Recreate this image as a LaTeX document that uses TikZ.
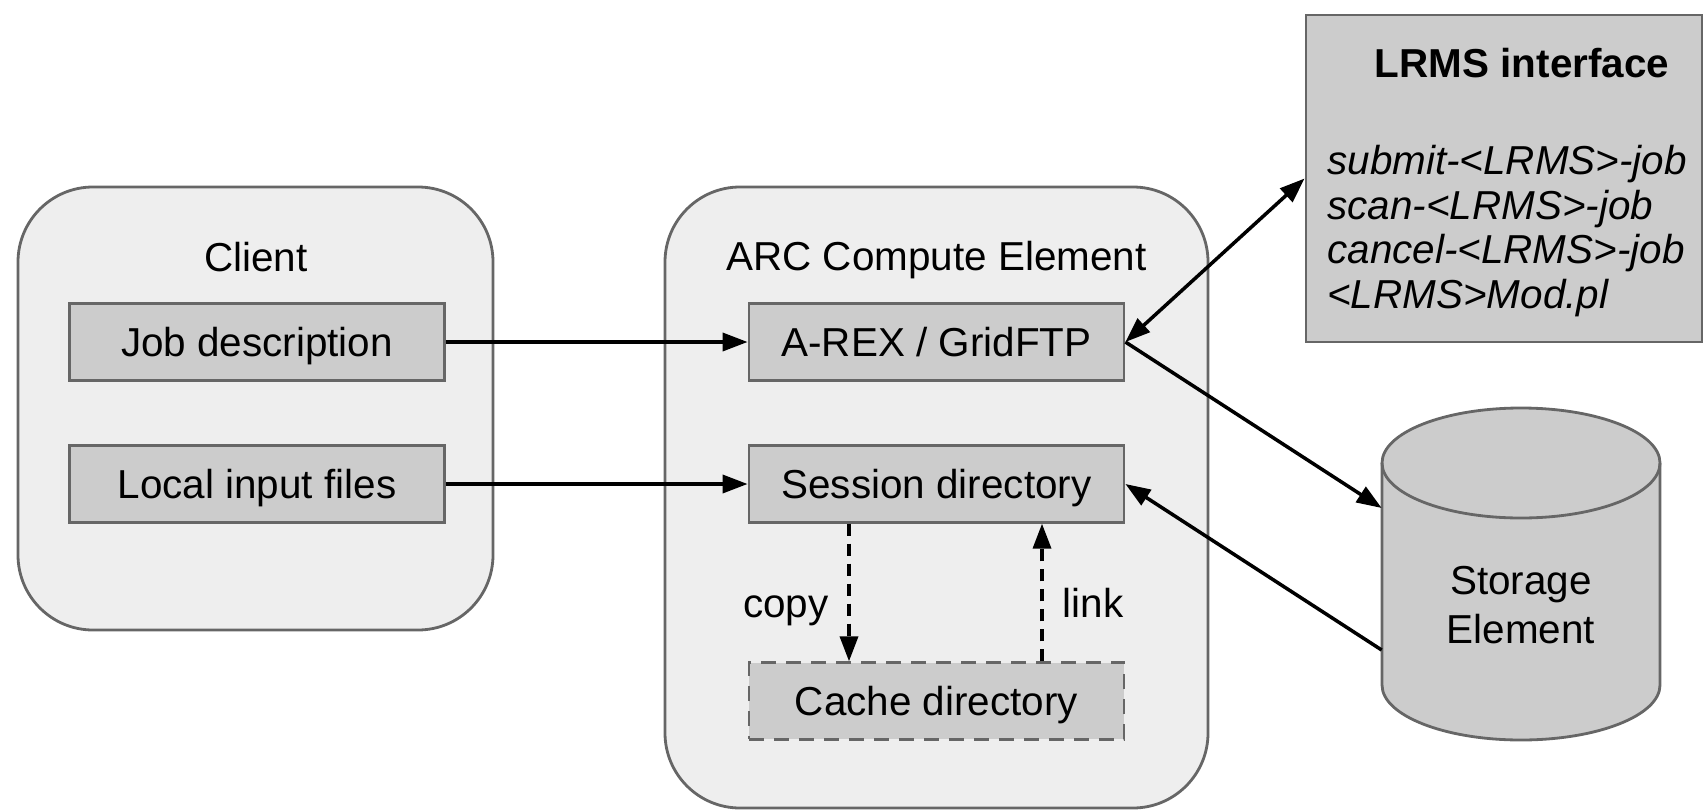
\documentclass[tikz,border=0pt]{standalone}
\usepackage{fontspec}
\setmainfont{Liberation Sans}
\usetikzlibrary{arrows.meta}
\definecolor{boxgray}{HTML}{CCCCCC}
\definecolor{panelgray}{HTML}{EEEEEE}
\definecolor{edgegray}{HTML}{666666}

\begin{document}
\begin{tikzpicture}[
  font=\fontsize{23}{27}\selectfont,
  panel/.style={draw=edgegray, fill=panelgray, line width=1.6pt, rounded corners=1.5cm},
  part/.style={draw=edgegray, fill=boxgray, line width=1.6pt, minimum width=7.5cm, minimum height=1.53cm,
    inner sep=0pt, text height=0.58cm, text depth=0pt},
  flow/.style={line width=2pt, -{Triangle[length=0.5cm, width=0.36cm]}},
  dashflow/.style={flow, dash pattern=on 0.24cm off 0.16cm}
]
\useasboundingbox (0,0) rectangle (34.16,16.18);

% Containers
\node[panel, minimum width=9.5cm, minimum height=8.86cm] (client) at (5.11,8.01) {};
\node[panel, minimum width=10.86cm, minimum height=12.42cm] (arc) at (18.73,6.23) {};
\node (clienttitle) at (5.12,11.04) {Client};
\node (arctitle) at (18.73,10.98) {ARC Compute Element};

% Client parts
\node[part] (jobdesc) at (5.14,9.34) {Job description};
\node[part] (localin) at (5.14,6.5) {Local input files};

% CE parts
\node[part] (arex) at (18.73,9.34) {A-REX / GridFTP};
\node[part] (session) at (18.73,6.5) {Session directory};
\node[part, dash pattern=on 0.3cm off 0.2cm] (cache) at (18.73,2.16) {Cache directory};

% LRMS interface
\node[draw=edgegray, fill=boxgray, line width=1.6pt, minimum width=7.92cm, minimum height=6.54cm] (lrms) at (30.08,12.61) {};
\node[font=\fontsize{23}{27}\selectfont\bfseries] (lrmstitle) at (30.44,14.92) {LRMS interface};
\node[anchor=west, align=left, inner sep=0pt, font=\fontsize{23}{25.5}\selectfont\itshape] (lrmsitems) at (26.54,11.56)
  {submit-<LRMS>-job\\scan-<LRMS>-job\\cancel-<LRMS>-job\\<LRMS>Mod.pl};

% Storage element (cylinder)
\fill[boxgray] (27.64,6.92) -- (27.64,2.48) arc[start angle=180, end angle=360, x radius=2.78cm, y radius=1.1cm]
  -- (33.2,6.92) arc[start angle=0, end angle=180, x radius=2.78cm, y radius=1.1cm] -- cycle;
\draw[edgegray, line width=1.6pt] (27.64,6.92) -- (27.64,2.48) arc[start angle=180, end angle=360, x radius=2.78cm, y radius=1.1cm] -- (33.2,6.92);
\draw[edgegray, line width=1.6pt] (30.42,6.92) ellipse[x radius=2.78cm, y radius=1.1cm];
\node[minimum width=5.56cm, minimum height=6.64cm, inner sep=0pt] (storage) at (30.42,4.7) {};
\node[align=center, font=\fontsize{23}{27.8}\selectfont] (storagetext) at (30.42,4.07) {Storage\\Element};

% Connectors
\draw[flow] (jobdesc) -- (arex);
\draw[flow] (localin) -- (session);
\draw[flow, {Triangle[length=0.5cm, width=0.36cm]}-{Triangle[length=0.5cm, width=0.36cm]}] (arex.east) -- (lrms.west);
\draw[flow] (arex.east) -- ([yshift=1.32cm]storage.west);
\draw[flow] ([yshift=-1.52cm]storage.west) -- (session.east);
\draw[dashflow] ([xshift=-1.75cm]session.south) -- ([xshift=-1.75cm]cache.north);
\draw[dashflow] ([xshift=2.11cm]cache.north) -- ([xshift=2.11cm]session.south);
\node[anchor=base east, inner sep=0pt] (copylabel) at (16.58,3.84) {copy};
\node[anchor=base west, inner sep=0pt] (linklabel) at (21.25,3.84) {link};
\end{tikzpicture}
\end{document}
